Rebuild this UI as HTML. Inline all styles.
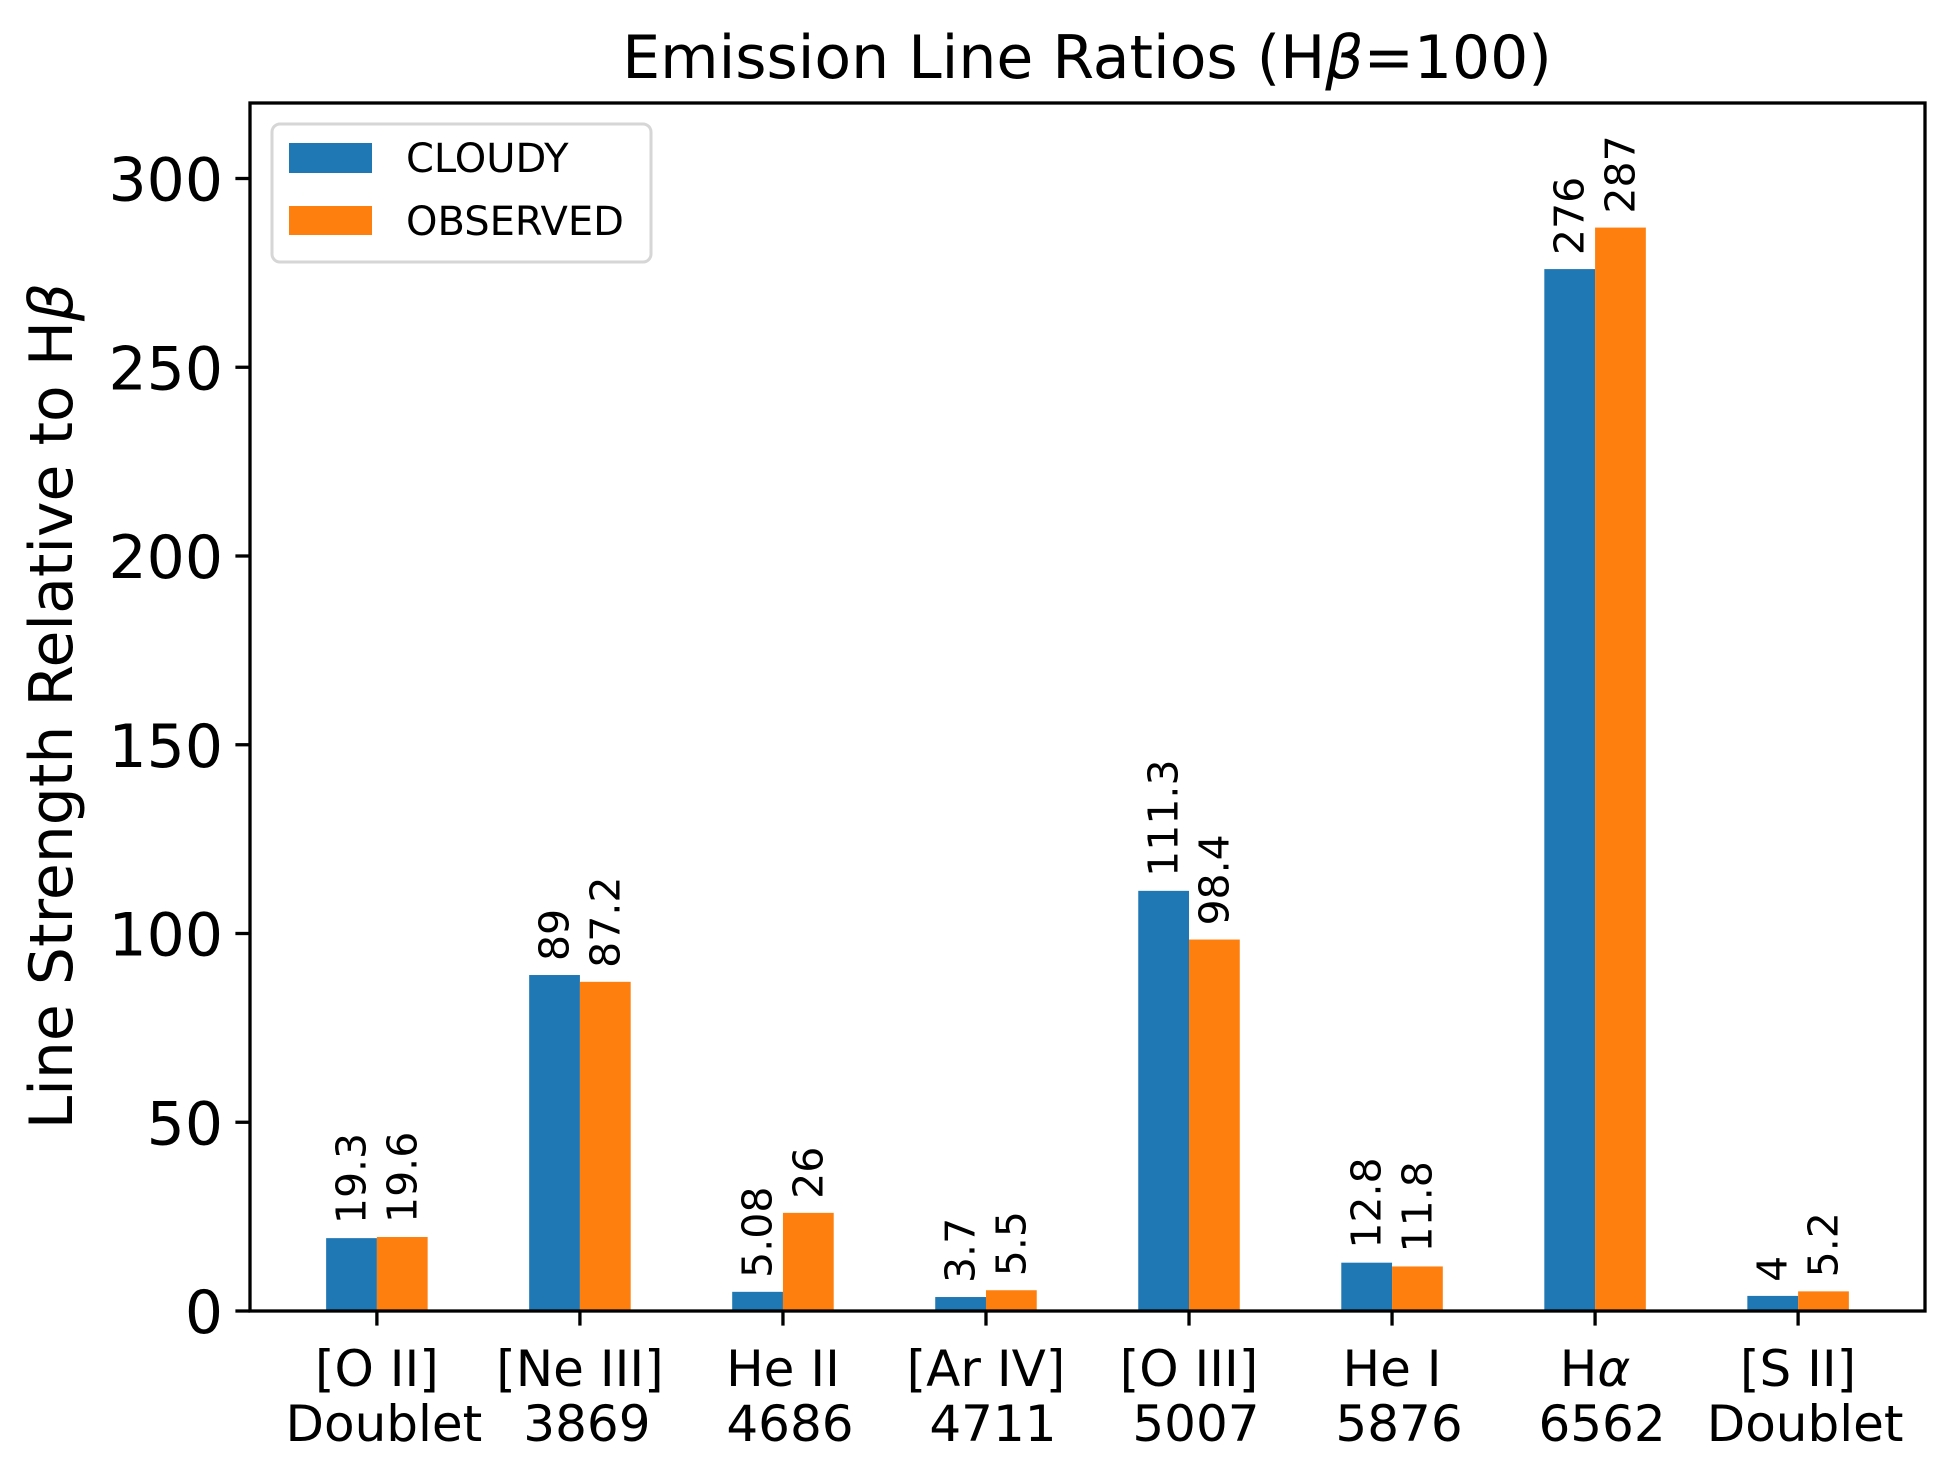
<!DOCTYPE html>
<html><head><meta charset="utf-8">
<style>
html,body{margin:0;padding:0;background:#fff;}
svg{display:block;font-family:"DejaVu Sans","Liberation Sans",sans-serif;}
</style></head>
<body>
<svg id="chart" width="1954" height="1474" viewBox="0 0 1954 1474" xmlns="http://www.w3.org/2000/svg">
<rect x="0" y="0" width="1954" height="1474" fill="#fff"/>
<text x="1087" y="78" font-size="60" text-anchor="middle">Emission Line Ratios (H<tspan font-style="italic">β</tspan>=100)</text>
<text transform="translate(72,706) rotate(-90)" font-size="60" text-anchor="middle">Line Strength Relative to H<tspan font-style="italic">β</tspan></text>
<g id="bars"></g>
<g id="ticks"></g>
<rect x="250" y="103" width="1675" height="1208" fill="none" stroke="#000" stroke-width="3.3"/>
<g>
<rect x="272" y="124" width="379" height="138" rx="8" fill="#fff" fill-opacity="0.8" stroke="#d6d6d6" stroke-width="3"/>
<rect x="289" y="143" width="83" height="30" fill="#1f77b4"/>
<text x="406" y="172" font-size="40">CLOUDY</text>
<rect x="289" y="206" width="83" height="29" fill="#ff7f0e"/>
<text x="406" y="235" font-size="40">OBSERVED</text>
</g>
</svg>
<script>
const categoriesLine1 = ["[O II]", "[Ne III]", "He II", "[Ar IV]", "[O III]", "He I", "Hα", "[S II]"];
const categoriesLine2 = ["Doublet", "3869", "4686", "4711", "5007", "5876", "6562", "Doublet"];
const cloudyValues = [19.3, 89, 5.08, 3.7, 111.3, 12.8, 276, 4];
const observedValues = [19.6, 87.2, 26, 5.5, 98.4, 11.8, 287, 5.2];
const cloudyLabels = ["19.3", "89", "5.08", "3.7", "111.3", "12.8", "276", "4"];
const observedLabels = ["19.6", "87.2", "26", "5.5", "98.4", "11.8", "287", "5.2"];
const yTicks = [0, 50, 100, 150, 200, 250, 300];

const NS = "http://www.w3.org/2000/svg";
const L = 250, R = 1925, T = 103, B = 1311;
const xMin = -0.625, xMax = 7.625, yMin = 0, yMax = 320;
function xScale(v){ return L + (v - xMin) / (xMax - xMin) * (R - L); }
function yScale(v){ return B - (v - yMin) / (yMax - yMin) * (B - T); }
function mk(tag, attrs){ const e = document.createElementNS(NS, tag); for (const k in attrs) e.setAttribute(k, attrs[k]); return e; }

const bars = document.getElementById('bars');
const ticks = document.getElementById('ticks');
const bw = 0.25;
const series = [
  {vals: cloudyValues, labs: cloudyLabels, off: -bw/2, color: "#1f77b4", key: "cloudy"},
  {vals: observedValues, labs: observedLabels, off: bw/2, color: "#ff7f0e", key: "observed"}
];
series.forEach(s => {
  s.vals.forEach((v, i) => {
    const x0 = xScale(i + s.off - bw/2), x1 = xScale(i + s.off + bw/2);
    const r = mk('rect', {x: x0, y: yScale(v), width: x1 - x0, height: yScale(0) - yScale(v), fill: s.color});
    
    
    bars.appendChild(r);
    const cx = xScale(i + s.off), ty = yScale(v) - 14;
    const t = mk('text', {transform: 'translate(' + cx + ',' + ty + ') rotate(-90)', 'font-size': 41, 'dominant-baseline': 'central'});
    t.textContent = s.labs[i];
    
    
    bars.appendChild(t);
  });
});
yTicks.forEach(v => {
  const y = yScale(v);
  const ln = mk('line', {x1: L - 14.6, x2: L, y1: y, y2: y, stroke: '#000', 'stroke-width': 3.3});
  
  
  ticks.appendChild(ln);
  const t = mk('text', {x: L - 27, y: y + 22, 'font-size': 60, 'text-anchor': 'end'});
  t.textContent = v;
  
  
  ticks.appendChild(t);
});
categoriesLine1.forEach((c, i) => {
  const x = xScale(i);
  const ln = mk('line', {x1: x, x2: x, y1: B, y2: B + 14.6, stroke: '#000', 'stroke-width': 3.3});
  
  
  ticks.appendChild(ln);
  const t = mk('text', {x: x, y: 1386, 'font-size': 50, 'text-anchor': 'middle'});
  if (c === "Hα") {
    t.appendChild(document.createTextNode("H"));
    const ts = mk('tspan', {'font-style': 'italic'}); ts.textContent = "α"; t.appendChild(ts);
  } else t.textContent = c;
  
  
  ticks.appendChild(t);
  const t2 = mk('text', {x: x + 7, y: 1441, 'font-size': 50, 'text-anchor': 'middle'});
  t2.textContent = categoriesLine2[i];
  
  
  ticks.appendChild(t2);
});
</script>
</body></html>
